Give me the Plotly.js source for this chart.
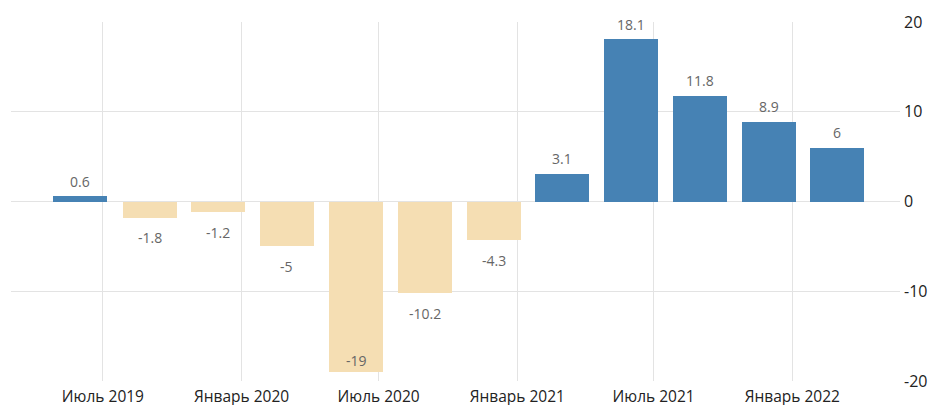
<!DOCTYPE html>
<html>
<head>
<meta charset="utf-8">
<script src="https://cdn.plot.ly/plotly-3.0.1.min.js"></script>
<style>html,body{margin:0;padding:0;background:#fff;}#chart{width:933px;height:405px;}</style>
</head>
<body>
<div id="chart"></div>
<script>
const dates = ['2019-06-01','2019-09-01','2019-12-01','2020-03-01','2020-06-01','2020-09-01','2020-12-01','2021-03-01','2021-06-01','2021-09-01','2021-12-01','2022-03-01'];
const values = [0.6, -1.8, -1.2, -5, -19, -10.2, -4.3, 3.1, 18.1, 11.8, 8.9, 6];
const tickDates = ['2019-07-01','2020-01-01','2020-07-01','2021-01-01','2021-07-01','2022-01-01'];
const tickLabels = ['Июль 2019','Январь 2020','Июль 2020','Январь 2021','Июль 2021','Январь 2022'];
const yTicks = [-20, -10, 0, 10, 20];
const yMin = -20, yMax = 20;

const colors = values.map(v => v >= 0 ? '#4682b4' : '#f5deb3');
const labelFont = {family: 'Open Sans, sans-serif', size: 14, color: '#666'};

const trace = {
  type: 'bar',
  x: dates,
  y: values,
  width: 72 * 86400000,
  marker: {color: colors, line: {width: 0}},
  hoverinfo: 'skip'
};

// value labels: above positive bars, below negative bars, inside if the bar reaches the axis limit
const annotations = values.map((v, i) => {
  let shift;
  if (v >= 0) shift = 15;
  else if (v <= yMin + 1) shift = 12;
  else shift = -20;
  return {
    x: dates[i], y: v, xref: 'x', yref: 'y',
    text: String(v), showarrow: false,
    xanchor: 'center', yanchor: 'middle', yshift: shift,
    font: labelFont
  };
});

const layout = {
  width: 933, height: 405,
  margin: {l: 11, r: 33, t: 22, b: 24},
  paper_bgcolor: '#fff', plot_bgcolor: '#fff',
  showlegend: false,
  bargap: 0,
  annotations: annotations,
  xaxis: {
    type: 'date',
    range: ['2019-03-01', '2022-05-24'],
    tickvals: tickDates,
    ticktext: tickLabels,
    showgrid: true, gridcolor: '#e3e3e3', gridwidth: 1,
    zeroline: false, showline: false, ticks: '',
    ticklabelstandoff: 4,
    tickfont: {family: 'Open Sans, sans-serif', size: 15.5, color: '#222'}
  },
  yaxis: {
    side: 'right',
    range: [yMin, yMax],
    tickvals: yTicks,
    ticktext: yTicks.map(String),
    showgrid: true, gridcolor: '#e3e3e3', gridwidth: 1,
    zeroline: true, zerolinecolor: '#e3e3e3', zerolinewidth: 1,
    showline: false, ticks: '',
    ticklabelstandoff: 3,
    tickfont: {family: 'Open Sans, sans-serif', size: 16, color: '#222'}
  }
};

Plotly.newPlot('chart', [trace], layout, {displayModeBar: false, staticPlot: true});
</script>
</body>
</html>
